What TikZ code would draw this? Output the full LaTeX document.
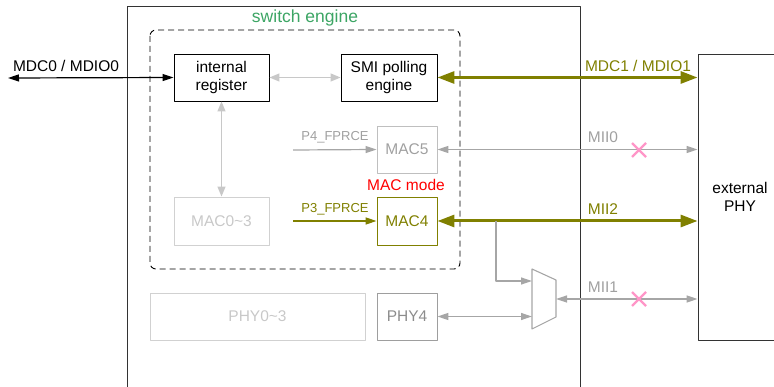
\documentclass[tikz,border=0pt]{standalone}
\usepackage{fontspec}
\setmainfont{Liberation Sans}
\usetikzlibrary{arrows.meta}
\definecolor{olivelink}{RGB}{128,128,0}
\definecolor{greylink}{RGB}{166,166,166}
\definecolor{palelink}{RGB}{200,200,200}
\definecolor{greytext}{RGB}{160,160,160}
\definecolor{paletext}{RGB}{200,200,200}
\definecolor{enginegreen}{RGB}{60,165,100}
\definecolor{crosspink}{RGB}{255,150,200}
\begin{document}
\begin{tikzpicture}[x=1pt,y=-1pt,line join=round,
		font=\fontsize{15.5}{18}\selectfont,
		block/.style={draw,line width=0.9pt,minimum width=#1,inner sep=0pt,align=center},
		block/.default=95pt,
		thin link/.style={line width=1.2pt,{Triangle[length=11pt,width=7pt]}-{Triangle[length=11pt,width=7pt]}},
		thick link/.style={draw=olivelink,line width=3pt,{Triangle[length=17pt,width=12pt]}-{Triangle[length=17pt,width=12pt]}},
		label/.style={inner sep=0pt},
		small label/.style={inner sep=0pt,font=\fontsize{13}{15}\selectfont},
		cross/.style={draw=crosspink,line width=2.2pt}]
	\useasboundingbox (0,0) rectangle (774,387);
	% chip and external phy
	\node[draw=black!80,line width=0.9pt,minimum width=453pt,minimum height=400pt,inner sep=0pt] (chip) at (353.5,206) {};
	\node[block=84pt,draw=black!80,minimum height=286pt] (extphy) at (740,197) {external\\PHY};
	% switch engine
	\draw[dashed,dash pattern=on 6pt off 4pt,line width=0.9pt,rounded corners=6pt] (150,30) rectangle (460,269);
	\node[label,text=enginegreen,font=\fontsize{17.5}{20}\selectfont] (swlabel) at (305,18) {switch engine};
	\node[block,minimum height=47pt] (intreg) at (221.5,77.5) {internal\\register};
	\node[block=96pt,minimum height=47pt] (smi) at (389,77.5) {SMI polling\\engine};
	\node[block=60pt,minimum height=47pt,draw=black!25,text=greytext] (mac5) at (407,149.5) {MAC5};
	\node[block=60pt,minimum height=48pt,draw=olivelink,text=olivelink] (mac4) at (407,221) {MAC4};
	\node[block,minimum height=48pt,draw=black!18,text=paletext] (mac03) at (221.5,221) {MAC0\textasciitilde3};
	\node[label,text=red] (macmode) at (406,185) {MAC mode};
	% phys
	\node[block=215pt,minimum height=47pt,draw=black!18,text=paletext] (phy03) at (257.5,316.5) {PHY0\textasciitilde3};
	\node[block=60pt,minimum height=47pt,draw=black!38,text=black!45] (phy4) at (407,316.5) {PHY4};
	% mux
	\coordinate (muxin1) at (532,281);
	\coordinate (muxin2) at (532,316.5);
	\coordinate (muxout) at (556,299);
	\draw[draw=greylink,line width=1.1pt] (532,269)--(556,280)--(556,317)--(532,329)--cycle;
	% links
	\coordinate (mdc0) at (8,78);
	\coordinate (p4in) at (293,150);
	\coordinate (p3in) at (293,221);
	\coordinate (tap) at (496,221);
	\draw[thin link,black] (mdc0) -- (intreg.west);
	\node[label] (mdc0label) at (66,66) {MDC0 / MDIO0};
	\draw[thin link,draw=palelink,{Triangle[length=10pt,width=8pt]}-{Triangle[length=10pt,width=8pt]}] (intreg.east) -- (smi.west);
	\draw[thin link,draw=palelink,{Triangle[length=10pt,width=8pt]}-{Triangle[length=10pt,width=8pt]}] (intreg.south) -- (mac03.north);
	\draw[thin link,draw=greylink,-{Triangle[length=11pt,width=7pt]}] (p4in) -- (mac5.west);
	\node[small label,text=greytext] (p4label) at (335,137) {P4\_FPRCE};
	\draw[thin link,draw=olivelink,-{Triangle[length=11pt,width=7pt]}] (p3in) -- (mac4.west);
	\node[small label,text=olivelink] (p3label) at (335,209) {P3\_FPRCE};
	\draw[thick link] (smi.east) -- (extphy.west |- smi.east);
	\node[label,text=olivelink] (mdc1label) at (638,66) {MDC1 / MDIO1};
	\draw[thin link,draw=greylink] (mac5.east) -- (extphy.west |- mac5.east);
	\node[label,text=greytext] (mii0label) at (603,137) {MII0};
	\draw[thick link] (mac4.east) -- (extphy.west |- mac4.east);
	\node[label,text=olivelink] (mii2label) at (603,209) {MII2};
	\draw[thin link,draw=greylink,-{Triangle[length=11pt,width=7pt]}] (tap) |- (muxin1);
	\draw[thin link,draw=greylink] (phy4.east) -- (muxin2);
	\draw[thin link,draw=greylink] (muxout) -- (extphy.west |- muxout);
	\node[label,text=greytext] (mii1label) at (603,287) {MII1};
	% crosses
	\draw[cross] (632,143)--(646,157) (632,157)--(646,143);
	\draw[cross] (632,292)--(646,306) (632,306)--(646,292);
\end{tikzpicture}
\end{document}
